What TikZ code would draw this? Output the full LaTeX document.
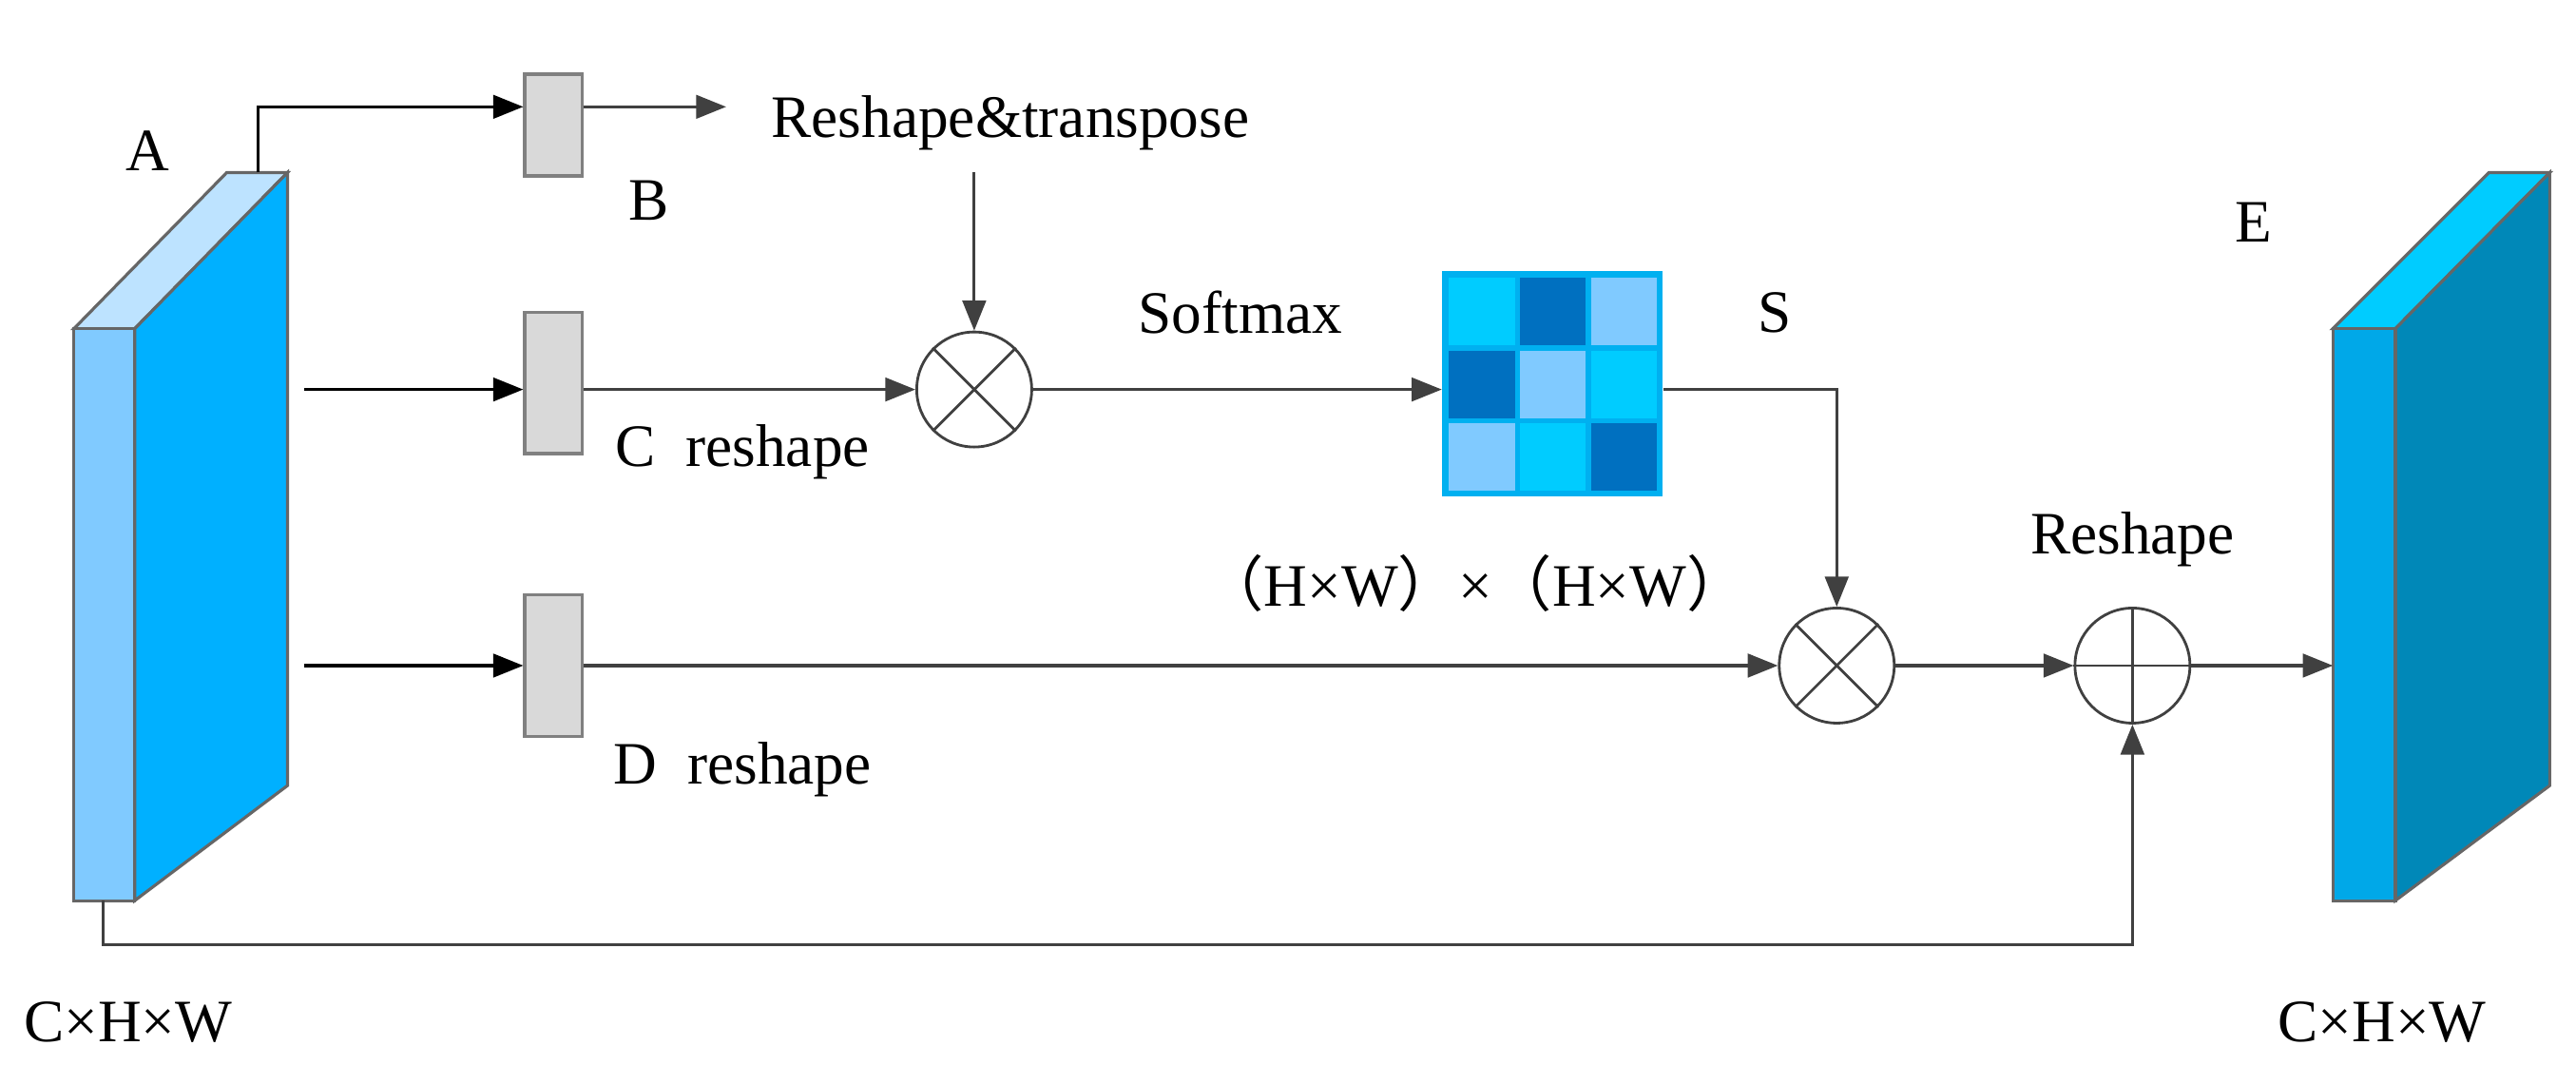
\documentclass[tikz,border=0pt]{standalone}
\usepackage{fontspec}
\setmainfont{Liberation Serif}
\newfontfamily\cjk{Noto Sans CJK SC}
\usetikzlibrary{arrows.meta}
\definecolor{ln}{HTML}{404040}
\definecolor{bx}{HTML}{D9D9D9}
\definecolor{aF}{HTML}{80CAFF}
\definecolor{aS}{HTML}{00B0FF}
\definecolor{aT}{HTML}{BDE3FF}
\definecolor{eF}{HTML}{00A8E8}
\definecolor{eS}{HTML}{0088B8}
\definecolor{eT}{HTML}{00CCFF}
\definecolor{m1}{HTML}{00CCFF}
\definecolor{m2}{HTML}{0070C0}
\definecolor{m3}{HTML}{80CAFF}
\definecolor{mb}{HTML}{00B0F0}
\begin{document}
\begin{tikzpicture}[x=0.01728cm,y=-0.01728cm,
  every node/.style={font=\fontsize{18}{20}\selectfont},
  conn/.style={draw=ln,line width=0.9pt},
  arr/.style={conn,-{Triangle[length=9pt,width=7pt]}},
  gbox/.style={draw=gray,line width=1pt,fill=bx,minimum width=35*0.01728cm,minimum height=86*0.01728cm,inner sep=0pt},
  op/.style={draw=ln,line width=0.8pt,circle,minimum size=70*0.01728cm,inner sep=0pt},
  face/.style={draw=ln!80,line width=0.9pt}]
\useasboundingbox (0,0) rectangle (1568,648);
% block A
\fill[aT,face] (45,200) -- (82,200) -- (175,105) -- (138,105) -- cycle;
\fill[aS,face] (82,200) -- (175,105) -- (175,478) -- (82,548) -- cycle;
\fill[aF,face] (45,200) rectangle (82,548);
\coordinate (Atop) at (157,105);
\coordinate (Abot) at (63,548);
% block E
\fill[eT,face] (1420,200) -- (1458,200) -- (1552,105) -- (1515,105) -- cycle;
\fill[eS,face] (1458,200) -- (1552,105) -- (1552,478) -- (1458,548) -- cycle;
\fill[eF,face] (1420,200) rectangle (1458,548);
\coordinate (Ein) at (1420,405);
% boxes
\node[gbox,minimum height=62*0.01728cm] (B) at (337,76) {};
\node[gbox] (C) at (337,233) {};
\node[gbox] (D) at (337,405) {};
\node[op] (X1) at (593,237) {};
\draw[ln,line width=0.8pt] (X1.45)--(X1.225) (X1.135)--(X1.315);
\node[op] (X2) at (1118,405) {};
\draw[ln,line width=0.8pt] (X2.45)--(X2.225) (X2.135)--(X2.315);
\node[op] (P) at (1298,405) {};
\draw[ln,line width=0.8pt] (P.north)--(P.south) (P.west)--(P.east);
% matrix
\fill[mb] (878,165) rectangle (1012,302);
\foreach \r/\c/\col in {0/0/m1,0/1/m2,0/2/m3,1/0/m2,1/1/m3,1/2/m1,2/0/m3,2/1/m1,2/2/m2}{
  \fill[\col] (882+\c*43.3,169+\r*44.3) rectangle ++(40,41);}
\node[inner sep=0pt,minimum width=134*0.01728cm,minimum height=137*0.01728cm] (M) at (945,233.5) {};
% labels
\node (LA) at (90,92) {A};
\node (LB) at (395,122) {B};
\node (LC) at (452,275) {C\ \ reshape};
\node (LD) at (452,468) {D\ \ reshape};
\node (RT) at (615,75) {Reshape\&transpose};
\node (SM) at (755,190) {Softmax};
\node (LS) at (1080,190) {S};
\node (HW) at (898,355) {{\cjk （}H×W{\cjk ）}×{\cjk （}H×W{\cjk ）}};
\node (RS) at (1298,328) {Reshape};
\node (LE) at (1372,135) {E};
\node (D1) at (78,622) {C×H×W};
\node (D2) at (1450,622) {C×H×W};
% connectors
\coordinate (Bin) at (B.west|-0,65);
\draw[arr,draw=black] (Atop) |- (Bin);
\coordinate (Bout) at (B.east|-0,65);
\coordinate (Bend) at (442,65);
\draw[arr] (Bout) -- (Bend);
\coordinate (Ts) at (593,105);
\draw[arr] (Ts) -- (X1.north);
\coordinate (Cs) at (185,237);
\draw[arr,draw=black] (Cs) -- (C.west|-Cs);
\coordinate (Ds) at (185,405);
\draw[arr,draw=black] (Ds) -- (D.west);
\draw[arr] (C.east|-X1) -- (X1.west);
\draw[arr] (X1.east) -- (M.west|-X1);
\draw[arr] (M.east|-X1) -| (X2.north);
\draw[arr] (D.east) -- (X2.west);
\draw[arr] (X2.east) -- (P.west);
\draw[arr] (P.east) -- (Ein);
\draw[arr] (Abot) -- (63,575) -| (P.south);
\end{tikzpicture}
\end{document}
